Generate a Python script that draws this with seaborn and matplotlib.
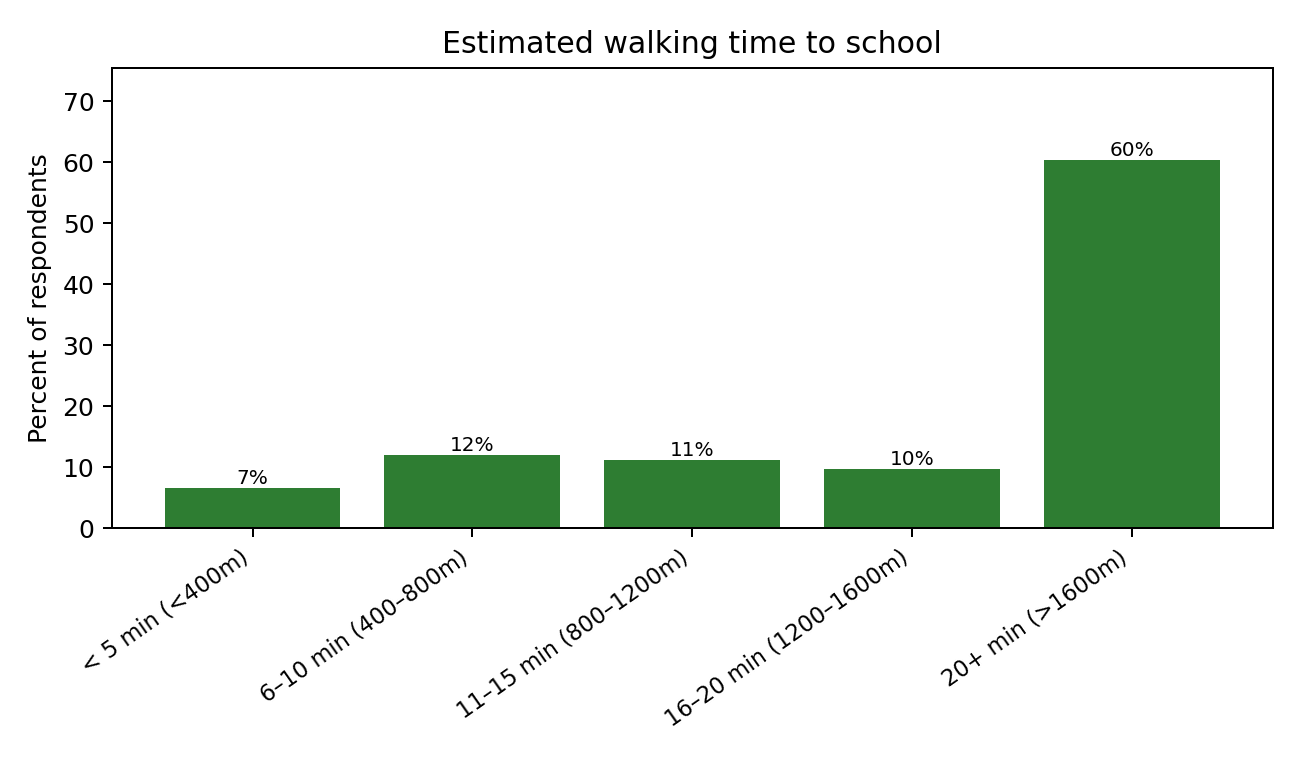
import matplotlib
matplotlib.use("Agg")
import matplotlib.pyplot as plt
import pandas as pd
import seaborn as sns

# walking time bands and share of respondents (%)
categories = [
    "< 5 min (<400m)",
    "6–10 min (400–800m)",
    "11–15 min (800–1200m)",
    "16–20 min (1200–1600m)",
    "20+ min (>1600m)",
]
percent = [6.65, 12.0, 11.25, 9.65, 60.3]

BAR_COLOR = "#2e7d32"

df = pd.DataFrame({"band": categories, "percent": percent})

fig, ax = plt.subplots(figsize=(1300 / 180, 758 / 180), dpi=180)

sns.barplot(data=df, x="band", y="percent", color=BAR_COLOR,
            saturation=1, width=0.8, ax=ax)

# bar value labels, rounded
for p, v in zip(ax.patches, percent):
    ax.text(p.get_x() + p.get_width() / 2, p.get_height(), f"{v:.0f}%",
            ha="center", va="bottom", fontsize=8)

ax.set_xlim(-0.64, len(categories) - 1 + 0.64)
ax.set_ylim(0, max(percent) * 1.25)

ax.set_title("Estimated walking time to school", fontsize=12)
ax.set_ylabel("Percent of respondents", fontsize=10)
ax.set_xlabel("")
ax.tick_params(axis="y", labelsize=10)
plt.setp(ax.get_xticklabels(), rotation=35, ha="right", fontsize=9)

fig.subplots_adjust(left=0.086, right=0.979, top=0.910, bottom=0.303)
fig.savefig("out.png", dpi=180)
